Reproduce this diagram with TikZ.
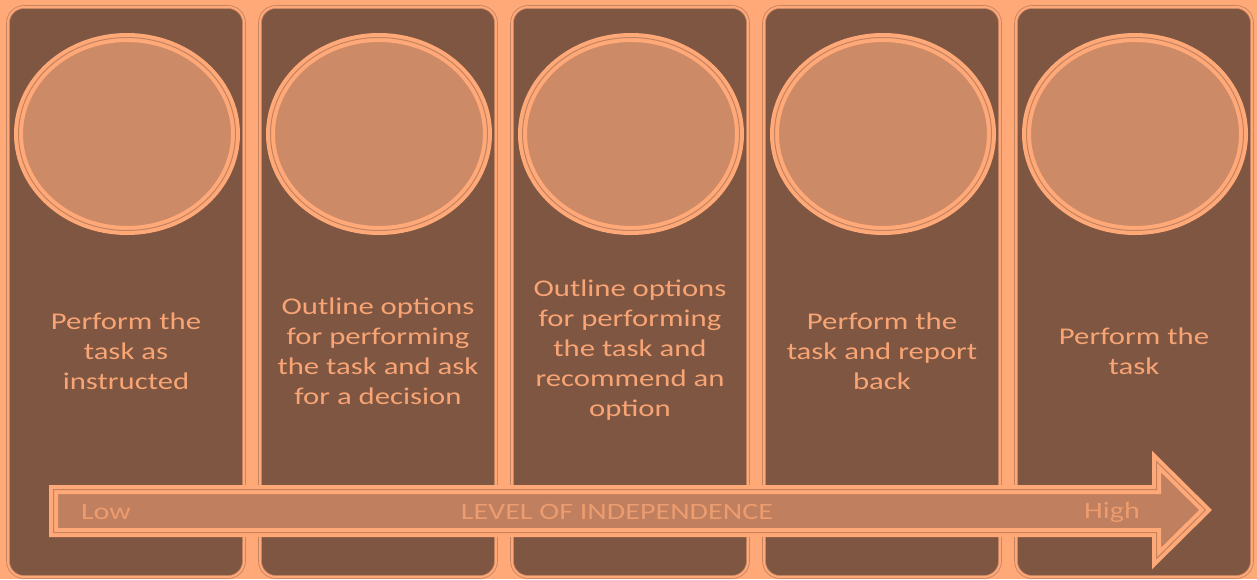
\documentclass[tikz,border=0pt]{standalone}
\usepackage{fontspec}
\setmainfont{Carlito}
\usetikzlibrary{shapes.geometric}
\definecolor{peach}{HTML}{FFA878}
\definecolor{colbrown}{HTML}{7E5641}
\definecolor{discfill}{HTML}{CD8A66}
\definecolor{arrowfill}{HTML}{C07F5E}
\definecolor{edgeline}{HTML}{C4825F}
\definecolor{textpeach}{HTML}{F8A474}
\definecolor{arrowtext}{HTML}{EC9C6E}

\begin{document}
\begin{tikzpicture}[x=1pt,y=-1pt,
	column/.style = {rectangle, rounded corners=16pt, fill=colbrown, draw=edgeline, line width=0.8pt, double=peach, double distance=2pt, minimum width=236pt, minimum height=570pt, inner sep=0pt},
	disc/.style = {ellipse, fill=discfill, draw=peach, line width=4pt, double=edgeline, double distance=1pt, minimum width=217pt, minimum height=193pt, inner sep=0pt},
	steptext/.style = {text=textpeach, align=center, font=\fontsize{24}{30}\selectfont, xscale=1.28, transform shape},
	levelarrow/.style = {fill=arrowfill, draw=peach, line width=4pt, double=edgeline, double distance=1pt},
	arrowlabel/.style = {text=arrowtext, font=\fontsize{23.5}{28}\selectfont, xscale=1.28, transform shape}]
	\fill [peach] (0,0) rectangle (1257,579);
	\useasboundingbox (0,0) rectangle (1257,579);
	% columns
	\node [column] (c1) at (126,292) {};
	\node [column] (c2) at (378,292) {};
	\node [column] (c3) at (630,292) {};
	\node [column] (c4) at (882,292) {};
	\node [column] (c5) at (1134,292) {};
	% discs
	\node [disc] (d1) at (127,134) {};
	\node [disc] (d2) at (379,134) {};
	\node [disc] (d3) at (631,134) {};
	\node [disc] (d4) at (883,134) {};
	\node [disc] (d5) at (1135,134) {};
	% texts
	\node [steptext] (t1) at (126,351) {Perform the\\task as\\instructed};
	\node [steptext] (t2) at (378,351) {Outline options\\for performing\\the task and ask\\for a decision};
	\node [steptext] (t3) at (630,350) {Outline options\\for performing\\the task and\\recommend an\\option};
	\node [steptext] (t4) at (882,351) {Perform the\\task and report\\back};
	\node [steptext] (t5) at (1134,351) {Perform the\\task};
	% arrow
	\draw [levelarrow] (53.5,489.5) -- (1156.5,489.5) -- (1156.5,461.5) -- (1205.5,510)
		-- (1156.5,558.5) -- (1156.5,532.5) -- (53.5,532.5) -- cycle;
	\node [arrowlabel] (low) at (106,512) {Low};
	\node [arrowlabel] (mid) at (617,512) {LEVEL OF INDEPENDENCE};
	\node [arrowlabel] (high) at (1112,512) {High};
\end{tikzpicture}
\end{document}
